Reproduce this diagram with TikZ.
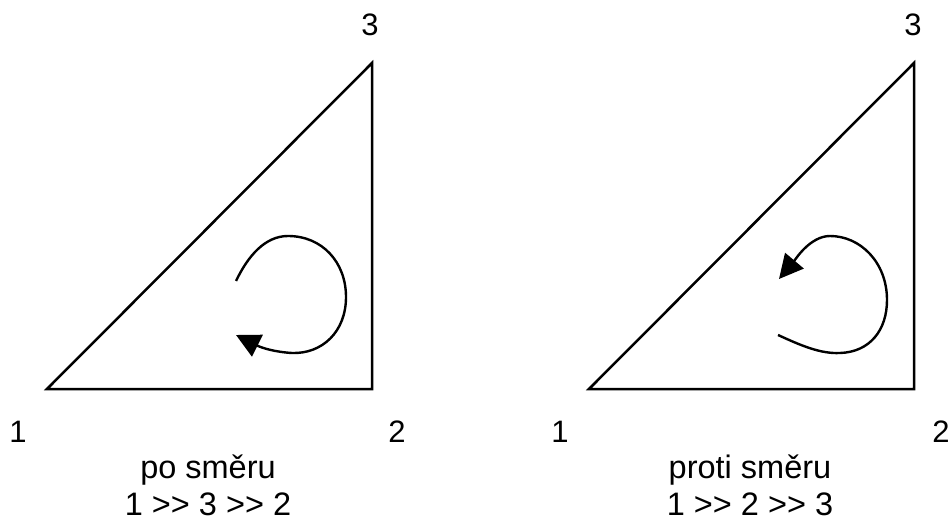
\documentclass[tikz,border=0pt]{standalone}
\usepackage{fontspec}
\setmainfont{Liberation Sans}
\usetikzlibrary{arrows.meta}
\newcommand{\gtgt}{>\kern0pt>}
\begin{document}
\begin{tikzpicture}[x=1pt,y=-1pt,
  edge/.style={line width=2.5pt,line join=miter},
  turn/.style={line width=2.4pt,-{Triangle[length=24pt,width=24pt]}},
  vlabel/.style={font=\fontsize{31}{37}\selectfont,anchor=base,inner sep=0pt},
  caption/.style={font=\fontsize{32.5}{37}\selectfont,anchor=base,align=center,inner sep=0pt}]
\useasboundingbox (0,0) rectangle (948,521);
% left triangle
\coordinate (a1) at (47,389);
\coordinate (a2) at (372,389);
\coordinate (a3) at (372,63);
\draw[edge] (a1) -- (a2) -- (a3) -- cycle;
\node[vlabel] (la1) at (18,442) {1};
\node[vlabel] (la2) at (397,442) {2};
\node[vlabel] (la3) at (370,36) {3};
\node[caption] (capa) at (208,515) {po směru\\1 \gtgt{} 3 \gtgt{} 2};
\coordinate (s1) at (236,281);
\coordinate (t1) at (236,335);
\draw[turn] (s1) .. controls (248,256) and (265,236) .. (288,236)
  .. controls (322,236) and (346,262) .. (346,297)
  .. controls (346,332) and (322,354) .. (292,353)
  .. controls (275,352) and (262,348) .. (t1);
% right triangle
\coordinate (b1) at (589,389);
\coordinate (b2) at (914,389);
\coordinate (b3) at (914,63);
\draw[edge] (b1) -- (b2) -- (b3) -- cycle;
\node[vlabel] (lb1) at (560,442) {1};
\node[vlabel] (lb2) at (941,442) {2};
\node[vlabel] (lb3) at (913,36) {3};
\node[caption] (capb) at (750,515) {proti směru\\1 \gtgt{} 2 \gtgt{} 3};
\coordinate (s2) at (778,335);
\coordinate (t2) at (779,279);
\draw[turn] (s2) .. controls (800,345) and (820,354) .. (840,353)
  .. controls (870,352) and (887,330) .. (887,300)
  .. controls (887,262) and (860,236) .. (830,236)
  .. controls (810,236) and (795,260) .. (t2);
\end{tikzpicture}
\end{document}
